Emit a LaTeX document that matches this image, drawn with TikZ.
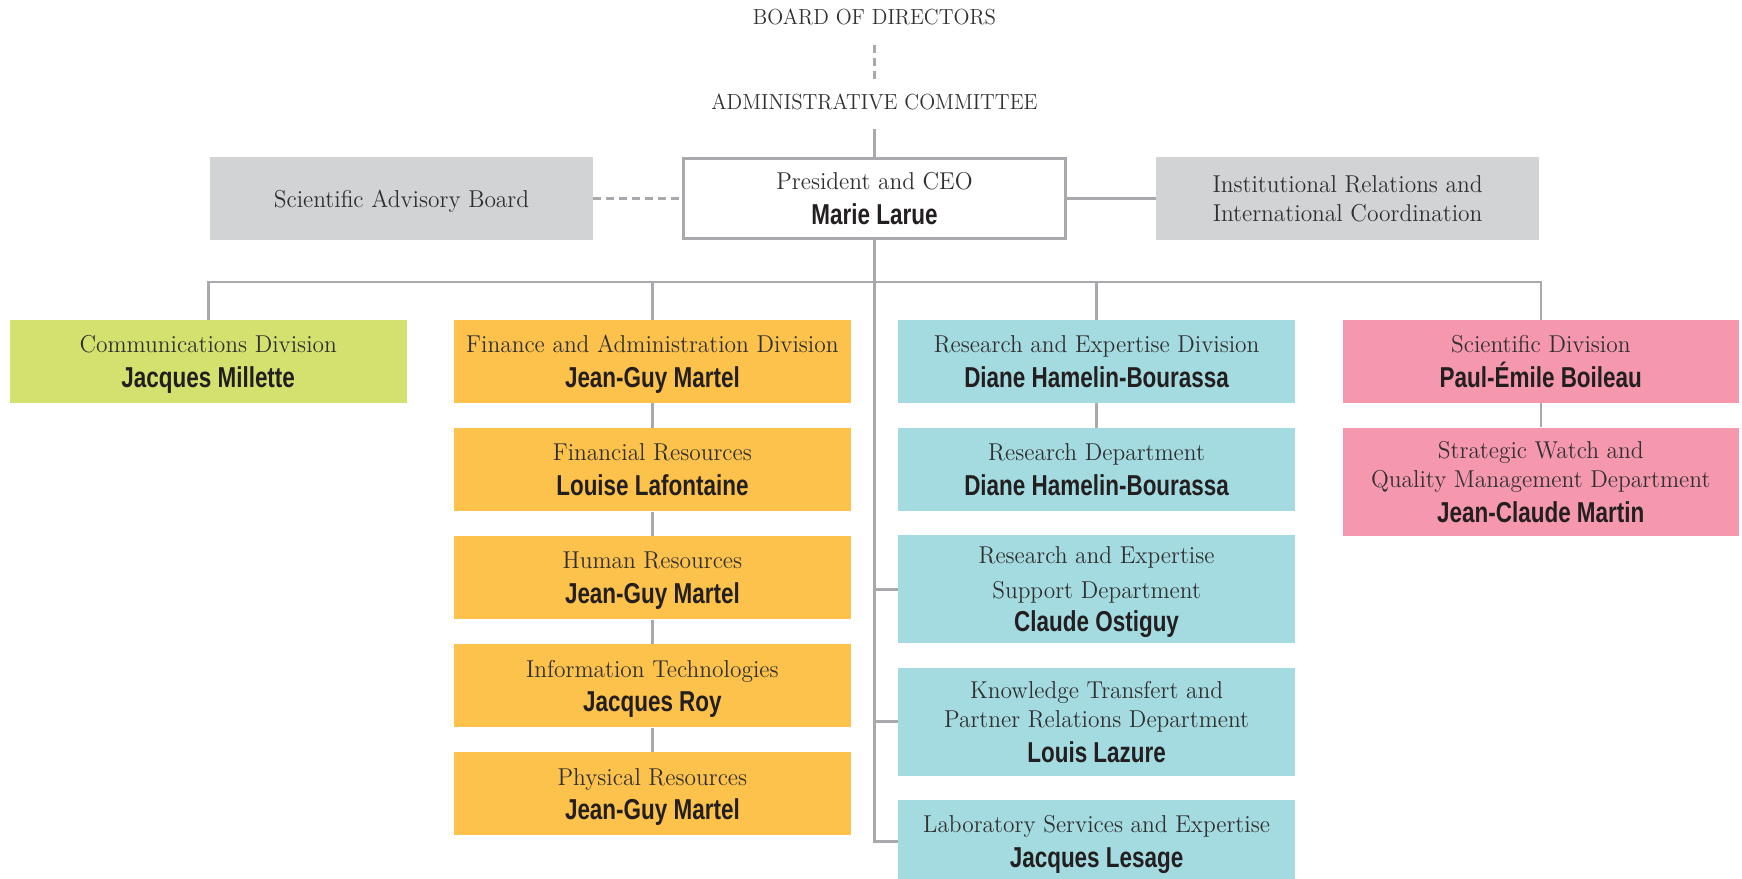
\documentclass[tikz,border=0pt]{standalone}
\usepackage{fontspec}
\setmainfont{lmroman12-regular.otf}[FakeStretch=0.96]
\newfontfamily\namefont{Liberation Sans}[FakeStretch=0.78]

\definecolor{linea}{RGB}{167,169,172}
\definecolor{grigio}{RGB}{209,211,212}
\definecolor{verde}{RGB}{213,225,110}
\definecolor{arancio}{RGB}{253,194,75}
\definecolor{azzurro}{RGB}{164,219,224}
\definecolor{rosa}{RGB}{245,152,174}
\definecolor{testo}{RGB}{48,48,48}
\definecolor{nero}{RGB}{35,31,32}

\newcommand{\nome}[1]{{\namefont\bfseries\fontsize{14.4}{17}\selectfont\color{nero}#1}}

\tikzset{
    casella/.style={inner sep=0pt, minimum width=198.3pt, minimum height=41.5pt,
        align=center, text=testo, text depth=0pt, font=\fontsize{12.2}{14.8}\selectfont},
    alta/.style={minimum height=53.9pt},
    titolo/.style={inner sep=0pt, text=testo, font=\fontsize{10.9}{13}\selectfont},
    link/.style={draw=linea, line width=1.3pt},
    tratteggio/.style={link, dash pattern=on 4pt off 2.5pt},
}

\begin{document}
\begin{tikzpicture}[x=0.5pt, y=-0.5pt]
        \useasboundingbox (0,0) rectangle (1742,879);

        %%%%%%%%%% Caselle %%%%%%%%%%
        \node[titolo] (board) at (874.5,16.7) {BOARD OF DIRECTORS};
        \node[titolo] (admin) at (874.5,102) {ADMINISTRATIVE COMMITTEE};

        \node[casella, draw=linea, line width=1.3pt, fill=white, minimum width=191.2pt, minimum height=40.2pt] (pres) at (874.5,198.5)
            {President and CEO\\[2.5pt]\nome{Marie Larue}};
        \node[casella, fill=grigio, minimum width=191.5pt] (sab) at (401.5,198.5) {Scientific Advisory Board};
        \node[casella, fill=grigio, minimum width=191.5pt] (iric) at (1347.6,198.5)
            {Institutional Relations and\\International Coordination};

        \node[casella, fill=verde] (comm) at (208.2,361.5) {Communications Division\\[2.5pt]\nome{Jacques Millette}};

        \node[casella, fill=arancio] (fin) at (652.4,361.5) {Finance and Administration Division\\[2.5pt]\nome{Jean-Guy Martel}};
        \node[casella, fill=arancio] (finres) at (652.4,469.6) {Financial Resources\\[2.5pt]\nome{Louise Lafontaine}};
        \node[casella, fill=arancio] (hr) at (652.4,577.7) {Human Resources\\[2.5pt]\nome{Jean-Guy Martel}};
        \node[casella, fill=arancio] (it) at (652.4,685.8) {Information Technologies\\[2.5pt]\nome{Jacques Roy}};
        \node[casella, fill=arancio] (phys) at (652.4,793.9) {Physical Resources\\[2.5pt]\nome{Jean-Guy Martel}};

        \node[casella, fill=azzurro] (res) at (1096.6,361.5) {Research and Expertise Division\\[2.5pt]\nome{Diane Hamelin-Bourassa}};
        \node[casella, fill=azzurro] (resdep) at (1096.6,469.6) {Research Department\\[2.5pt]\nome{Diane Hamelin-Bourassa}};
        \node[casella, alta, fill=azzurro] (supp) at (1096.6,589.3)
            {Research and Expertise\\[2.7pt]Support Department\\[1.6pt]\nome{Claude Ostiguy}};
        \node[casella, alta, fill=azzurro] (know) at (1096.6,721.6)
            {Knowledge Transfert and\\Partner Relations Department\\[2.5pt]\nome{Louis Lazure}};
        \node[casella, fill=azzurro] (lab) at (1096.6,841.5) {Laboratory Services and Expertise\\[2.5pt]\nome{Jacques Lesage}};

        \node[casella, fill=rosa] (sci) at (1540.8,361.5) {Scientific Division\\[2.5pt]\nome{Paul-Émile Boileau}};
        \node[casella, alta, fill=rosa] (watch) at (1540.8,481.6)
            {Strategic Watch and\\Quality Management Department\\[2.5pt]\nome{Jean-Claude Martin}};

        \coordinate (bus) at (874.5,282);

        %%%%%%%%% Collegamenti %%%%%%%%%
        \draw[tratteggio, shorten <=9.8pt, shorten >=7.2pt] (board.south) -- (admin.north);
        \draw[link, shorten <=9.2pt] (admin.south) -- (pres.north);
        \draw[tratteggio] (sab) -- (pres);
        \draw[link] (pres) -- (iric);

        \draw[link] (comm.north) |- (bus) -| (sci.north);
        \draw[link] (fin.north) -- (fin.north |- bus);
        \draw[link] (res.north) -- (res.north |- bus);

        \draw[link] (pres.south) |- (lab.west);
        \draw[link] (pres.south |- supp.west) -- (supp.west);
        \draw[link] (pres.south |- know.west) -- (know.west);

        \draw[link] (fin) -- (finres);
        \draw[link] (finres) -- (hr);
        \draw[link] (hr) -- (it);
        \draw[link] (it) -- (phys);
        \draw[link] (res) -- (resdep);
        \draw[link] (sci) -- (watch);
    \end{tikzpicture}
\end{document}
